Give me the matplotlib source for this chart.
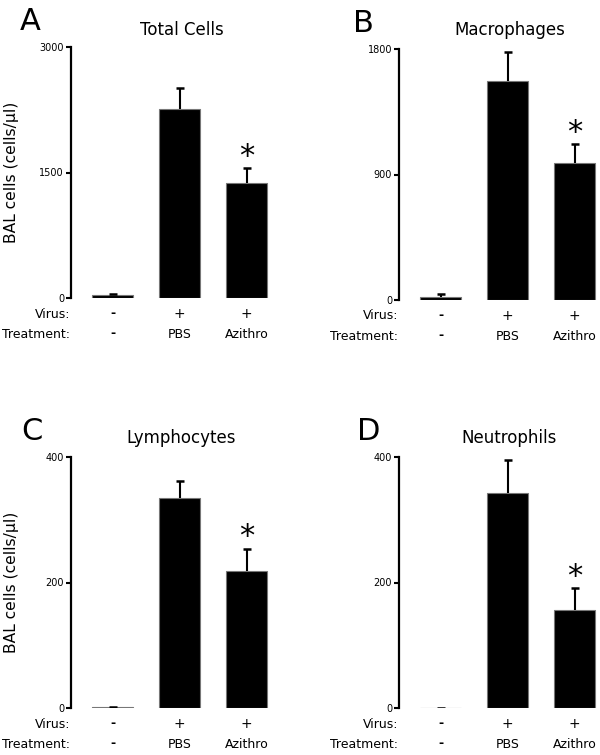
import matplotlib
matplotlib.use("Agg")
import matplotlib.pyplot as plt

plt.rcParams['font.family'] = ['DejaVu Sans']

groups = ["Control", "PBS", "Azithro"]
virus_labels = ["-", "+", "+"]
treatment_labels = ["-", "PBS", "Azithro"]

panel_letters = ["A", "B", "C", "D"]
titles = ["Total Cells", "Macrophages", "Lymphocytes", "Neutrophils"]
ymax = [3000, 1800, 400, 400]
yticks = [[0, 1500, 3000], [0, 900, 1800], [0, 200, 400], [0, 200, 400]]

total_means = [30, 2260, 1375]
total_errs = [15, 245, 180]
macro_means = [25, 1570, 985]
macro_errs = [15, 210, 135]
lympho_means = [1, 335, 219]
lympho_errs = [1, 26, 35]
neutro_means = [0, 342, 156]
neutro_errs = [0, 54, 35]

all_means = [total_means, macro_means, lympho_means, neutro_means]
all_errs = [total_errs, macro_errs, lympho_errs, neutro_errs]
significant = [False, False, True]

W, H = 600, 755
fig = plt.figure(figsize=(6, 7.55), dpi=100)

unit = 67.0  # px per category
xmin, xmax = -0.62, 2.35
# (axis left px, axis top px, axis bottom px, letter offset px)
layout = [(71, 47, 298, 51), (399, 49, 300, 46), (71, 457, 708, 50), (399, 457, 708, 42)]
letter_up = [25, 25, 25, 25]
title_up = [17, 19, 19, 19]

for i in range(4):
    left, top, bottom, loff = layout[i]
    width = (xmax - xmin) * unit
    hpx = bottom - top
    ax = fig.add_axes([left / W, (H - bottom) / H, width / W, hpx / H])
    x = list(range(len(groups)))
    means = all_means[i]
    errs = all_errs[i]
    tops = [m + e for m, e in zip(means, errs)]
    ax.bar(x, means, width=0.61, color='black', edgecolor='#777777', linewidth=0.8, zorder=2)
    # upper-only error bars
    ax.vlines(x, means, tops, color='black', linewidth=1.5, zorder=3)
    cap = 0.06
    ax.hlines(tops, [v - cap for v in x], [v + cap for v in x], color='black',
              linewidth=1.8, zorder=3)
    ax.set_xlim(xmin, xmax)
    ax.set_ylim(0, ymax[i])
    ax.set_yticks(yticks[i])
    ax.set_yticklabels([str(t) for t in yticks[i]], fontsize=7)
    ax.set_xticks([])
    for s in ['top', 'right', 'bottom']:
        ax.spines[s].set_visible(False)
    ax.spines['left'].set_linewidth(1.6)
    ax.tick_params(axis='y', length=3.5, width=1.5, pad=1.5)
    ax.patch.set_alpha(0)

    # significance star
    for j in range(3):
        if significant[j]:
            ax.annotate('*', (x[j], tops[j]), xytext=(0, -2),
                        textcoords='offset points', ha='center', va='bottom',
                        fontsize=22)

    # title
    ax.text(1.03, 1.0 + title_up[i] / hpx, titles[i], transform=ax.get_xaxis_transform(),
            ha='center', va='center', fontsize=12)
    # panel letter
    fig.text((left - loff) / W, (H - (top - letter_up[i])) / H, panel_letters[i],
             fontsize=22, ha='left', va='center')

    # row labels
    ypx_v = bottom + 16
    ypx_t = bottom + 36
    fig.text((left - 1) / W, (H - ypx_v) / H, "Virus:", ha='right', va='center', fontsize=9)
    fig.text((left - 1) / W, (H - ypx_t) / H, "Treatment:", ha='right', va='center', fontsize=9)
    for j in range(3):
        xpx = left + (x[j] - xmin) * unit
        fig.text(xpx / W, (H - ypx_v) / H, virus_labels[j], ha='center', va='center',
                 fontsize=10 if virus_labels[j] == '+' else 9,
                 fontweight='bold' if virus_labels[j] == '-' else 'normal')
        fig.text(xpx / W, (H - ypx_t) / H, treatment_labels[j], ha='center', va='center',
                 fontsize=9, fontweight='bold' if treatment_labels[j] == '-' else 'normal')

    if i in (0, 2):
        fig.text(12 / W, (H - (top + bottom) / 2) / H, "BAL cells (cells/µl)",
                 rotation=90, ha='center', va='center', fontsize=11.2)

fig.savefig("out.png", dpi=100)
